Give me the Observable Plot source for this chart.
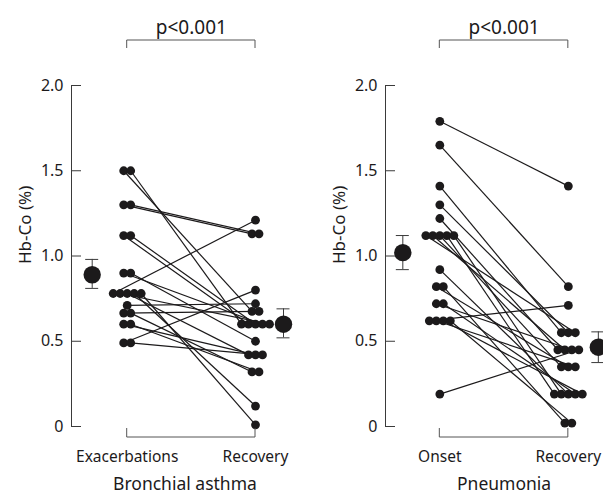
<!DOCTYPE html>
<html>
<head>
<meta charset="utf-8">
<script src="https://cdn.jsdelivr.net/npm/d3@7"></script>
<script src="https://cdn.jsdelivr.net/npm/@observablehq/plot@0.6"></script>
<style>
  body { margin: 0; background: #fff; }
  #wrap { display: flex; width: 603px; height: 499px; overflow: hidden; }
  #wrap svg { overflow: visible; }
</style>
</head>
<body>
<div id="wrap"></div>
<script>
// ---------- data ----------
const yTicks = [0, 0.5, 1.0, 1.5, 2.0];
const pValueText = "p<0.001";
const yLabel = "Hb-Co (%)";

// Bronchial asthma: paired Hb-Co (%) per patient
const asthmaTitle = "Bronchial asthma";
const asthmaColumns = ["Exacerbations", "Recovery"];
const asthmaBefore = [1.50, 1.50, 1.30, 1.30, 1.12, 1.12, 0.90, 0.90, 0.78, 0.78, 0.78, 0.78, 0.78, 0.71, 0.665, 0.665, 0.60, 0.60, 0.49, 0.49];
const asthmaAfter  = [0.675, 0.60, 1.13, 1.13, 0.60, 0.60, 0.60, 0.50, 1.21, 0.60, 0.42, 0.12, 0.01, 0.72, 0.675, 0.32, 0.42, 0.32, 0.80, 0.42];
const asthmaMean = [0.89, 0.60];
const asthmaLow  = [0.81, 0.52];
const asthmaHigh = [0.98, 0.69];

// Pneumonia: paired Hb-Co (%) per patient
const pneuTitle = "Pneumonia";
const pneuColumns = ["Onset", "Recovery"];
const pneuBefore = [1.79, 1.65, 1.41, 1.30, 1.22, 1.12, 1.12, 1.12, 1.12, 1.12, 0.92, 0.82, 0.82, 0.72, 0.72, 0.62, 0.62, 0.62, 0.62, 0.19];
const pneuAfter  = [1.41, 0.82, 0.55, 0.55, 0.45, 0.55, 0.45, 0.35, 0.19, 0.19, 0.19, 0.35, 0.02, 0.45, 0.19, 0.71, 0.35, 0.19, 0.02, 0.45];
const pneuMean = [1.02, 0.465];
const pneuLow  = [0.92, 0.375];
const pneuHigh = [1.12, 0.555];

// ---------- drawing ----------
const INK = "#1c1a1b";
const FONT = "'Noto Sans', sans-serif";

function dodge(values, step) {
  const groups = d3.group(values.map((v, i) => i), i => values[i]);
  const out = new Array(values.length);
  for (const idx of groups.values()) {
    const n = idx.length;
    idx.forEach((i, k) => { out[i] = (k - (n - 1) / 2) * step; });
  }
  return out;
}

function panel(cfg) {
  const {width, marginLeft, marginRight, xDomain, columns, before, after, mean, low, high, title, meanShiftPx, titleX} = cfg;
  const height = 499, marginTop = 85, marginBottom = 73;
  const pxu = (width - marginLeft - marginRight) / (xDomain[1] - xDomain[0]);
  const step = 7 / pxu;
  const bOff = dodge(before, step), aOff = dodge(after, step);
  const idx = d3.range(before.length);
  const bx = idx.map(i => 0 + bOff[i]);
  const ax = idx.map(i => 1 + aOff[i]);
  const cols = [0, 1];
  const mx = cols.map(c => c + meanShiftPx[c] / pxu);
  const cap = 6.5 / pxu;
  const fmt = d => d === 0 ? "0" : d.toFixed(1);

  const plot = Plot.plot({
    width, height, marginTop, marginBottom, marginLeft, marginRight,
    x: {type: "linear", domain: xDomain, axis: null},
    y: {type: "linear", domain: [0, 2], axis: null},
    style: {fontFamily: FONT, fontSize: "15px", color: INK, background: "transparent"},
    marks: [
      // y axis line, inward ticks, labels
      Plot.ruleX([xDomain[0]], {y1: 0, y2: 2, stroke: "#3a3a3a", strokeWidth: 1}),
      Plot.ruleY(yTicks, {y: d => d, x1: xDomain[0], x2: xDomain[0] + 10 / pxu, stroke: "#3a3a3a", strokeWidth: 1}),
      Plot.text(yTicks, {y: d => d, x: xDomain[0], dx: -8, text: fmt, textAnchor: "end", fill: INK, fontSize: 16}),
      Plot.text([yLabel], {frameAnchor: "left", dx: -46, dy: 8, rotate: -90, fill: INK, fontSize: 17}),
      // paired lines
      Plot.link(idx, {x1: i => bx[i], y1: i => before[i], x2: i => ax[i], y2: i => after[i], stroke: INK, strokeWidth: 1.2}),
      // points
      Plot.dot(idx, {x: i => bx[i], y: i => before[i], r: 4.4, fill: INK}),
      Plot.dot(idx, {x: i => ax[i], y: i => after[i], r: 4.4, fill: INK}),
      // mean ± error
      Plot.ruleX(cols, {x: c => mx[c], y1: c => low[c], y2: c => high[c], stroke: "#3a3a3a", strokeWidth: 1}),
      Plot.ruleY(cols, {y: c => low[c], x1: c => mx[c] - cap, x2: c => mx[c] + cap, stroke: "#3a3a3a", strokeWidth: 1}),
      Plot.ruleY(cols, {y: c => high[c], x1: c => mx[c] - cap, x2: c => mx[c] + cap, stroke: "#3a3a3a", strokeWidth: 1}),
      Plot.dot(cols, {x: c => mx[c], y: c => mean[c], r: 8.7, fill: INK}),
      // category labels and titles
      Plot.text(cols, {x: c => c, frameAnchor: "bottom", dy: 35, text: c => columns[c], fill: INK, fontSize: 15.5}),
      Plot.text([title], {x: titleX, frameAnchor: "bottom", dy: 63, fill: INK, fontSize: 17.5}),
      Plot.text([pValueText], {x: 0.5, frameAnchor: "top", dy: -65, fill: INK, fontSize: 19})
    ]
  });

  // brackets positioned with the plot's own x scale
  const xs = plot.scale("x");
  const x0 = xs.apply(0), x1 = xs.apply(1);
  const svg = d3.select(plot.tagName === "svg" ? plot : plot.querySelector("svg"));
  svg.append("path")
    .attr("d", `M${x0},48V40H${x1}V48`)
    .attr("fill", "none").attr("stroke", "#555").attr("stroke-width", 1);
  svg.append("path")
    .attr("d", `M${x0},428V437H${x1}V428`)
    .attr("fill", "none").attr("stroke", "#555").attr("stroke-width", 1);
  return plot;
}

const wrap = document.getElementById("wrap");
wrap.appendChild(panel({
  width: 301, marginLeft: 71, marginRight: 7.5, xDomain: [-0.434, 1.3],
  columns: asthmaColumns, before: asthmaBefore, after: asthmaAfter,
  mean: asthmaMean, low: asthmaLow, high: asthmaHigh, title: asthmaTitle,
  meanShiftPx: [-35, 28], titleX: 0.45
}));
wrap.appendChild(panel({
  width: 302, marginLeft: 84, marginRight: 2, xDomain: [-0.4226, 1.258],
  columns: pneuColumns, before: pneuBefore, after: pneuAfter,
  mean: pneuMean, low: pneuLow, high: pneuHigh, title: pneuTitle,
  meanShiftPx: [-37, 30], titleX: 0.5
}));
</script>
</body>
</html>
